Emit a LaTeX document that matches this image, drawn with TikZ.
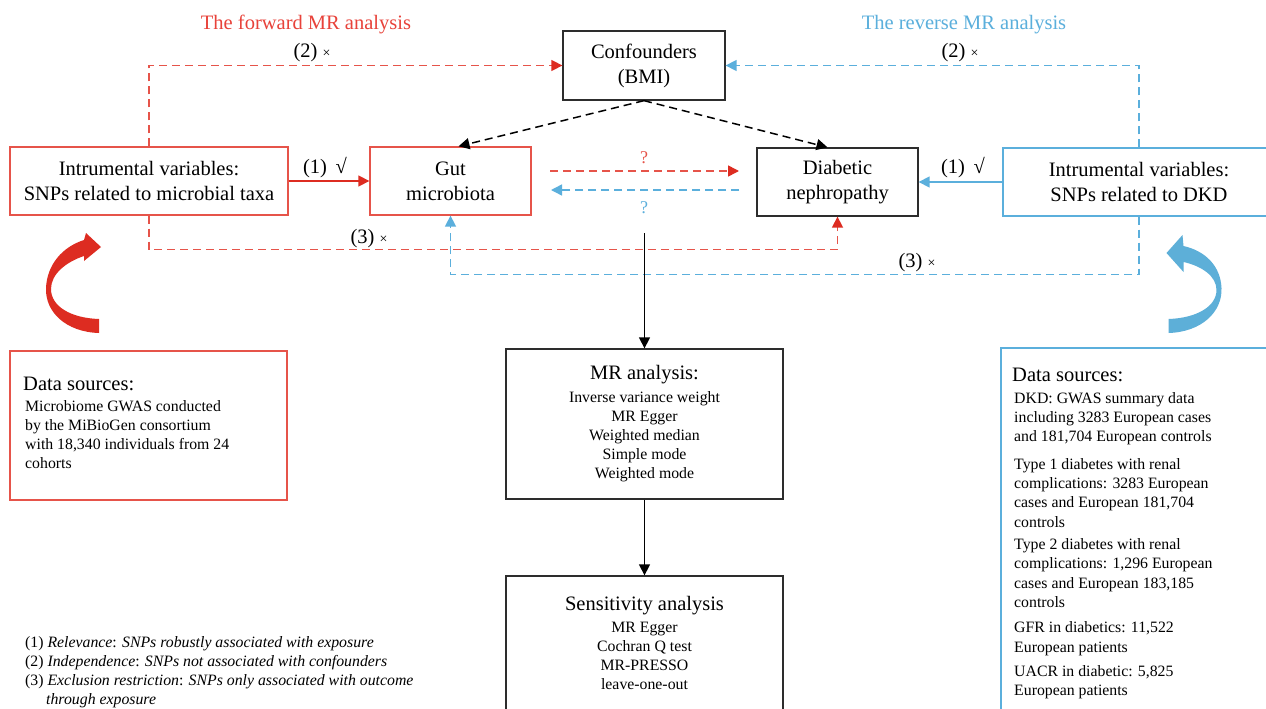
\documentclass[tikz,border=0pt]{standalone}
\usepackage{fontspec}
\setmainfont{Liberation Serif}
\usetikzlibrary{arrows.meta}
\definecolor{rdark}{RGB}{221,44,33}
\definecolor{rline}{RGB}{230,84,74}
\definecolor{rtitle}{RGB}{232,66,58}
\definecolor{bline}{RGB}{91,175,220}
\definecolor{bfill}{RGB}{93,175,216}
\definecolor{boxgray}{RGB}{45,45,45}
\newcommand\fbig{\fontsize{20.5}{25}\selectfont}
\newcommand\fbody{\fontsize{15.8}{19}\selectfont}
\newcommand\fnote{\fontsize{15.8}{19}\selectfont}
\newcommand\fq{\fontsize{18}{20}\selectfont}
\newcommand\fx{\fontsize{14}{15}\selectfont}
\begin{document}
\begin{tikzpicture}[x=1pt,y=-1pt,
  box/.style={draw, line width=1.3pt, inner sep=0pt, align=center, font=\fbig},
  rbox/.style={box, draw=rline},
  bbox/.style={box, draw=bline},
  kbox/.style={box, draw=boxgray},
  lab/.style={font=\fbig, inner sep=0pt},
  cline/.style={anchor=base, inner sep=0pt, font=\fbody},
  lline/.style={anchor=base west, inner sep=0pt, font=\fbody},
  ttl/.style={anchor=base, inner sep=0pt, font=\fbig},
  ltl/.style={anchor=base west, inner sep=0pt, font=\fbig},
  nline/.style={anchor=base west, inner sep=0pt, font=\fnote},
  dsh/.style={line width=1.5pt, dash pattern=on 8pt off 5pt},
  rtip/.style={-{Triangle[length=11pt,width=11pt,color=rdark]}},
  btip/.style={-{Triangle[length=11pt,width=11pt,color=bline]}},
  ktip/.style={-{Triangle[length=11pt,width=11pt,color=black]}},
  rdsh/.style={dsh, draw=rline, rtip},
  bdsh/.style={dsh, draw=bline, btip},
  kdsh/.style={dsh, draw=black, ktip},
]
\useasboundingbox (0,0) rectangle (1266,709);
\fill[white] (0,0) rectangle (1266,709);

% titles
\node[ttl, text=rtitle] (tf) at (306,30) {The forward MR analysis};
\node[ttl, text=bline] (tr) at (964,30) {The reverse MR analysis};

% main boxes
\node[rbox, minimum width=278pt, minimum height=68pt] (ivl) at (149,181)
  {Intrumental variables:\\SNPs related to microbial taxa};
\node[rbox, minimum width=161pt, minimum height=68pt] (gut) at (450.5,181)
  {Gut\\microbiota};
\node[kbox, minimum width=162pt, minimum height=69pt] (conf) at (644,65.5)
  {Confounders\\(BMI)};
\node[kbox, minimum width=161pt, minimum height=68pt] (dn) at (837.5,182)
  {Diabetic\\nephropathy};
\node[bbox, minimum width=272pt, minimum height=68pt] (ivr) at (1139,182)
  {Intrumental variables:\\SNPs related to DKD};

% connectors between main boxes
\draw[rdsh] (ivl.north) |- (conf.west);
\draw[bdsh] (ivr.north) |- (conf.east);
\draw[line width=1.4pt, draw=rdark, rtip] (ivl.east) -- (gut.west);
\draw[line width=1.4pt, draw=bline, btip] (ivr.west) -- (dn.east);
\draw[kdsh] (conf.south) -- ([xshift=8pt]gut.north);
\draw[kdsh] (conf.south) -- ([xshift=-10pt]dn.north);
\coordinate (ra) at (550,171);
\coordinate (rb) at (739,171);
\coordinate (ba) at (739,190);
\coordinate (bb) at (551,190);
\draw[rdsh] (ra) -- (rb);
\draw[bdsh] (ba) -- (bb);
\draw[rdsh] (ivl.south) |- ([yshift=-33pt]dn.south) -- (dn.south);
\draw[bdsh] (ivr.south) |- ([yshift=-59pt]gut.south) -- (gut.south);

% labels
\node[lab] (l2a) at (312,53) {(2) {\fx ×}};
\node[lab] (l2b) at (960,53) {(2) {\fx ×}};
\node[lab] (l1a) at (325,168) {(1)\, √};
\node[lab] (l1b) at (963,168) {(1)\, √};
\node[lab] (l3a) at (369,239) {(3) {\fx ×}};
\node[lab] (l3b) at (917,263) {(3) {\fx ×}};
\node[font=\fq, text=rline, inner sep=0pt] (qr) at (644,158) {?};
\node[font=\fq, text=bline, inner sep=0pt] (qb) at (644,208) {?};

% MR analysis and sensitivity
\node[kbox, minimum width=277pt, minimum height=150pt] (mr) at (644.5,424) {};
\node[kbox, minimum width=277pt, minimum height=160pt] (sens) at (644.5,656) {};
\coordinate (down) at (644.5,233);
\draw[line width=1.4pt, ktip] (down) -- (mr.north);
\draw[line width=1.4pt, ktip] (mr.south) -- (sens.north);
\node[ttl] (mrt) at (644.5,379) {MR analysis:};
\foreach \t [count=\i] in {Inverse variance weight, MR Egger, Weighted median, Simple mode, Weighted mode}
  \node[cline] (mr\i) at (644.5,{402+19*(\i-1)}) {\t};
\node[ttl] (sst) at (644.5,610) {Sensitivity analysis};
\foreach \t [count=\i] in {MR Egger, Cochran Q test, MR-PRESSO, leave-one-out}
  \node[cline] (ss\i) at (644.5,{632+19*(\i-1)}) {\t};

% curved arrows
\fill[rdark] (99,333) .. controls (66,332) and (45,312) .. (46,288)
  .. controls (47,265) and (62,247) .. (84,240) -- (86,233) -- (101,247)
  -- (84,261) -- (84,256) .. controls (66,262) and (51,274) .. (51,289)
  .. controls (51,306) and (70,318) .. (99,319) -- cycle;
\fill[bfill] (1168.5,333) .. controls (1201.5,332) and (1222.5,312) .. (1221.5,288)
  .. controls (1220.5,266) and (1205.5,251) .. (1183.5,246) -- (1182.5,235) -- (1166.5,253)
  -- (1183.5,272) -- (1183.5,262) .. controls (1201.5,266) and (1216.5,276) .. (1216.5,290)
  .. controls (1216.5,306) and (1197.5,318) .. (1168.5,319) -- cycle;

% data sources boxes
\node[rbox, minimum width=277pt, minimum height=149pt] (dsl) at (148.5,425.5) {};
\node[ltl] (dslt) at (23,390) {Data sources:};
\foreach \t [count=\i] in {Microbiome GWAS conducted, by the MiBioGen consortium, {with 18,340 individuals from 24}, cohorts}
  \node[lline] (dsl\i) at (25,{411+19*(\i-1)}) {\t};

\node[bbox, minimum width=290pt, minimum height=390pt] (dsr) at (1146,543) {};
\node[ltl] (dsrt) at (1012,381) {Data sources:};
\foreach \yy/\t [count=\i] in {
  403/{DKD: GWAS summary data},
  422/{including 3283 European cases},
  441/{and 181,704 European controls},
  469/{Type 1 diabetes with renal},
  488/{complications: 3283 European},
  507/{cases and European 181,704},
  527/{controls},
  549/{Type 2 diabetes with renal},
  568/{complications: 1,296 European},
  588/{cases and European 183,185},
  607/{controls},
  632/{GFR in diabetics: 11,522},
  652/{European patients},
  676/{UACR in diabetic: 5,825},
  695/{European patients}}
  \node[lline] (dsr\i) at (1014,\yy) {\t};

% footnote
\node[nline] (n1) at (25,647) {(1) \textit{Relevance}: \textit{SNPs robustly associated with exposure}};
\node[nline] (n2) at (25,666) {(2) \textit{Independence}: \textit{SNPs not associated with confounders}};
\node[nline] (n3) at (25,685) {(3) \textit{Exclusion restriction}: \textit{SNPs only associated with outcome}};
\node[nline] (n4) at (46,704) {\textit{through exposure}};
\end{tikzpicture}
\end{document}
